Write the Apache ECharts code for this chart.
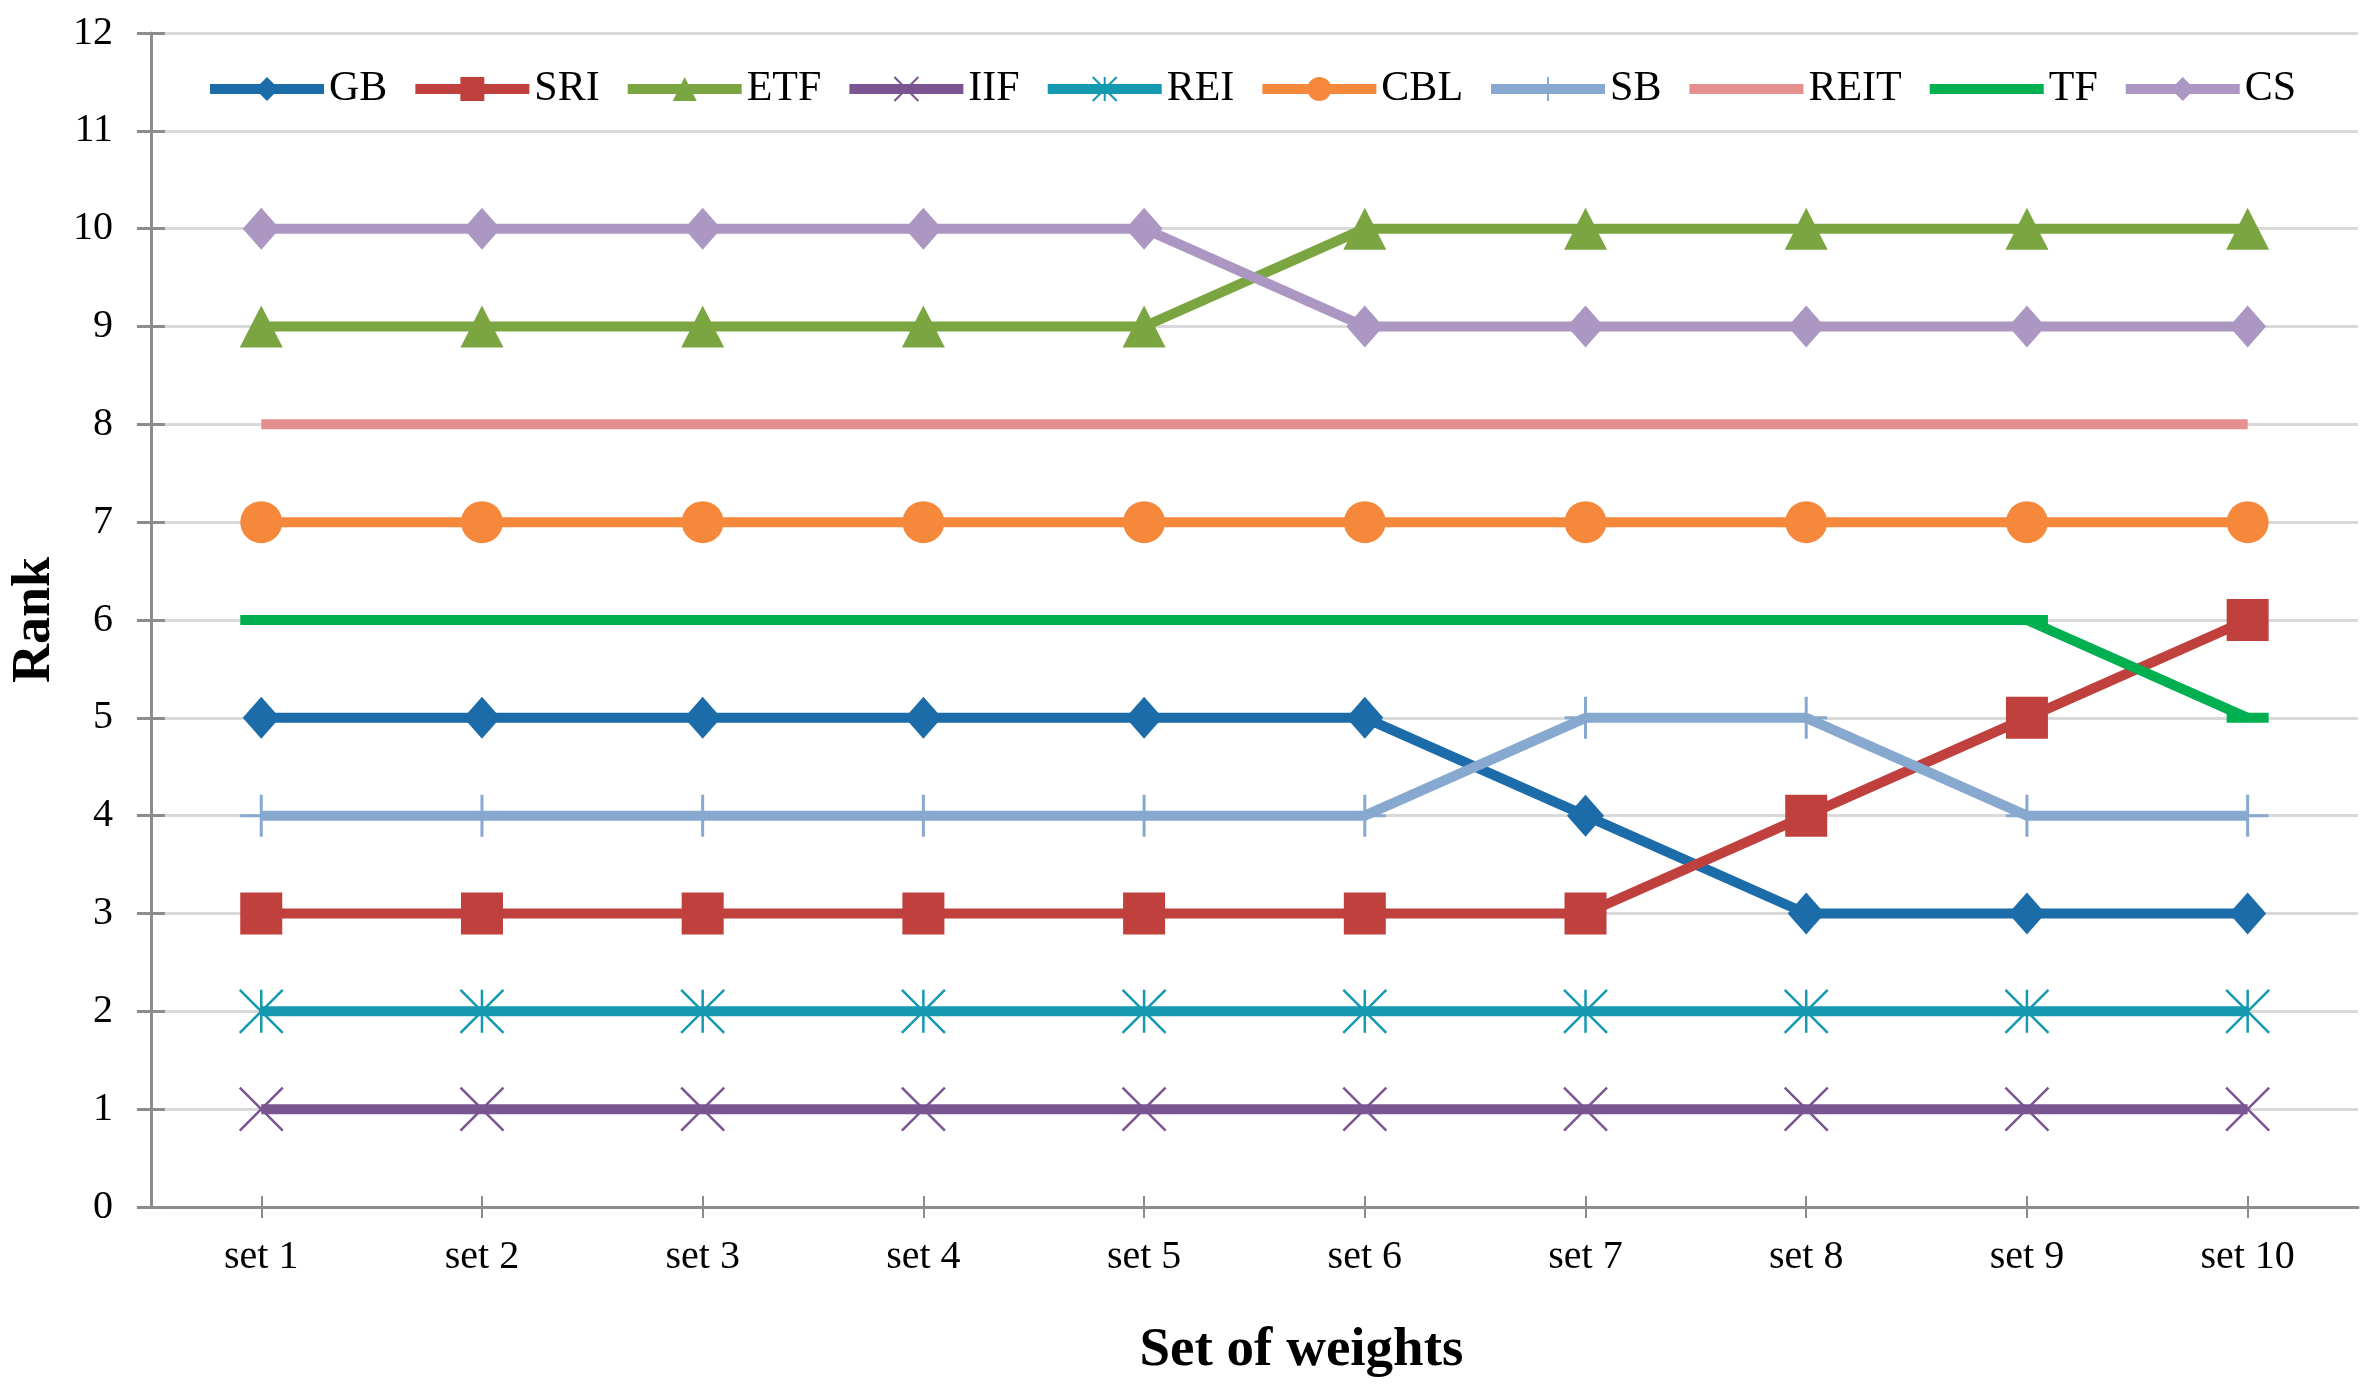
<!DOCTYPE html>
<html>
<head>
<meta charset="utf-8">
<script src="https://cdn.jsdelivr.net/npm/echarts@6/dist/echarts.min.js"></script>
<style>
html,body{margin:0;padding:0;background:#fff;}
#chart{width:2379px;height:1390px;}
</style>
</head>
<body>
<div id="chart"></div>
<script>
const categories = ['set 1','set 2','set 3','set 4','set 5','set 6','set 7','set 8','set 9','set 10'];
const seriesNames = ['GB','SRI','ETF','IIF','REI','CBL','SB','REIT','TF','CS'];
const GB   = [5,5,5,5,5,5,4,3,3,3];
const SRI  = [3,3,3,3,3,3,3,4,5,6];
const ETF  = [9,9,9,9,9,10,10,10,10,10];
const IIF  = [1,1,1,1,1,1,1,1,1,1];
const REI  = [2,2,2,2,2,2,2,2,2,2];
const CBL  = [7,7,7,7,7,7,7,7,7,7];
const SB   = [4,4,4,4,4,4,5,5,4,4];
const REIT = [8,8,8,8,8,8,8,8,8,8];
const TF   = [6,6,6,6,6,6,6,6,6,5];
const CS   = [10,10,10,10,10,9,9,9,9,9];
const yTicks = [0,1,2,3,4,5,6,7,8,9,10,11,12];

const FONT = 'Liberation Serif';
const axisGrey = '#8c8c8c';
const LW = 10;

const xPath = 'path://M0,0L10,10M10,0L0,10';
const starPath = 'path://M0,0L10,10M10,0L0,10M5,0L5,10';
const plusPath = 'path://M5,0L5,10M0,5L10,5';

const styles = {
  GB:   {color:'#1b6ca8', symbol:'diamond', size:[37,42], bw:0},
  SRI:  {color:'#c0403d', symbol:'rect', size:[42,42], bw:0},
  ETF:  {color:'#7aa541', symbol:'triangle', size:[43,42], bw:0},
  IIF:  {color:'#7a5591', symbol:xPath, size:[43,43], bw:2.5},
  REI:  {color:'#1499b1', symbol:starPath, size:[43,43], bw:2.5},
  CBL:  {color:'#f5883a', symbol:'circle', size:[42,42], bw:0},
  SB:   {color:'#87a8cf', symbol:plusPath, size:[42,42], bw:3},
  REIT: {color:'#e58f8e', symbol:'none', size:[1,1], bw:0},
  TF:   {color:'#00b050', symbol:'rect', size:[42,10], bw:0},
  CS:   {color:'#ab97c1', symbol:'diamond', size:[37,42], bw:0}
};
const dataMap = {GB, SRI, ETF, IIF, REI, CBL, SB, REIT, TF, CS};
const noLegendSymbol = ['TF', 'REIT'];

const series = seriesNames.map(n => ({
  name: n,
  type: 'line',
  xAxisIndex: 0,
  yAxisIndex: 0,
  data: dataMap[n],
  symbol: styles[n].symbol,
  symbolSize: styles[n].size,
  showAllSymbol: true,
  lineStyle: {color: styles[n].color, width: LW, cap: 'butt'},
  itemStyle: {color: styles[n].color, borderColor: styles[n].color, borderWidth: styles[n].bw, opacity: 1},
  emphasis: {disabled: true},
  animation: false
}));

const chart = echarts.init(document.getElementById('chart'));
chart.setOption({
  animation: false,
  backgroundColor: '#ffffff',
  textStyle: {fontFamily: FONT, color: '#000'},
  grid: {left: 150, right: 21, top: 33, bottom: 183, containLabel: false},
  legend: {
    data: seriesNames.map(n => noLegendSymbol.includes(n) ? {name: n, itemStyle: {opacity: 0}} : {name: n}),
    left: 200,
    top: 63,
    itemWidth: 114,
    itemHeight: 30,
    itemGap: 23,
    lineStyle: {width: LW},
    textStyle: {fontFamily: FONT, fontSize: 42, color: '#000'}
  },
  xAxis: [{
    type: 'category',
    data: categories,
    boundaryGap: true,
    position: 'bottom',
    name: 'Set of weights',
    nameLocation: 'middle',
    nameGap: 116,
    nameTextStyle: {fontFamily: FONT, fontSize: 55, fontWeight: 'bold', color: '#000', padding: [0,0,0,94]},
    axisLine: {show: true, lineStyle: {color: axisGrey, width: 3}},
    axisTick: {show: true, alignWithLabel: true, length: 11, lineStyle: {color: axisGrey, width: 2}},
    axisLabel: {fontFamily: FONT, fontSize: 40, color: '#000', margin: 30},
    splitLine: {show: false}
  }, {
    type: 'category',
    data: categories,
    boundaryGap: true,
    position: 'bottom',
    axisLine: {show: false},
    axisTick: {show: true, inside: true, alignWithLabel: true, length: 11, lineStyle: {color: axisGrey, width: 2}},
    axisLabel: {show: false},
    splitLine: {show: false}
  }],
  yAxis: [{
    type: 'value',
    min: yTicks[0],
    max: yTicks[yTicks.length - 1],
    interval: 1,
    position: 'left',
    name: 'Rank',
    nameLocation: 'middle',
    nameGap: 86,
    nameTextStyle: {fontFamily: FONT, fontSize: 54, fontWeight: 'bold', color: '#000'},
    axisLine: {show: true, lineStyle: {color: axisGrey, width: 3}},
    axisTick: {show: true, length: 14, lineStyle: {color: axisGrey, width: 3}},
    axisLabel: {fontFamily: FONT, fontSize: 40, color: '#000', margin: 38},
    splitLine: {show: true, lineStyle: {color: '#d9d9d9', width: 3}}
  }, {
    type: 'value',
    min: yTicks[0],
    max: yTicks[yTicks.length - 1],
    interval: 1,
    position: 'left',
    axisLine: {show: false},
    axisTick: {show: true, inside: true, length: 14, lineStyle: {color: axisGrey, width: 3}},
    axisLabel: {show: false},
    splitLine: {show: false}
  }],
  series: series
});
</script>
</body>
</html>
